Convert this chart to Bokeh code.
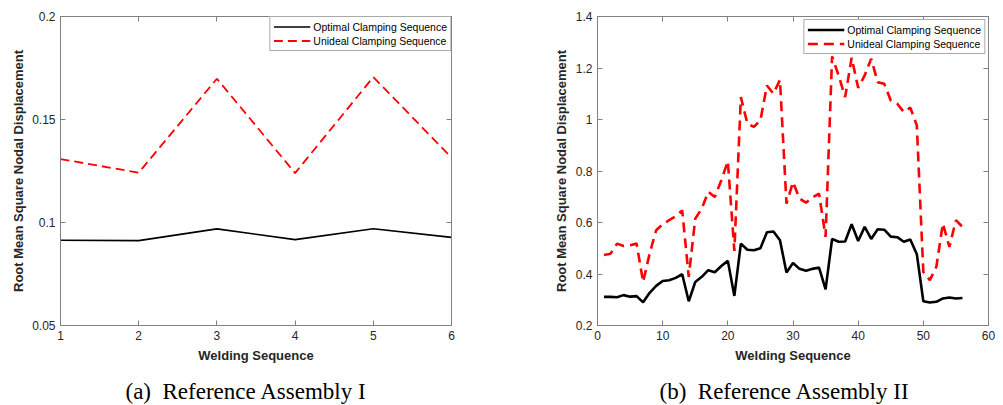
from bokeh.plotting import figure
from bokeh.layouts import row
from bokeh.models import Legend, LegendItem, LinearAxis, FixedTicker, Label, Range1d
from bokeh.embed import file_html
from bokeh.resources import INLINE

# ---------------- data ----------------
a_seq = [1, 2, 3, 4, 5, 6]
a_optimal = [0.0914, 0.0912, 0.0969, 0.0917, 0.0970, 0.0928]
a_unideal = [0.1308, 0.1242, 0.1698, 0.1240, 0.1706, 0.1315]

b_seq = list(range(1, 57))
b_optimal = [0.311, 0.311, 0.310, 0.318, 0.312, 0.314, 0.290, 0.327, 0.354, 0.373,
             0.376, 0.385, 0.399, 0.294, 0.369, 0.389, 0.415, 0.407, 0.431, 0.451,
             0.315, 0.518, 0.494, 0.492, 0.500, 0.562, 0.565, 0.531, 0.406, 0.443,
             0.420, 0.413, 0.420, 0.425, 0.340, 0.536, 0.525, 0.526, 0.593, 0.528,
             0.583, 0.536, 0.574, 0.572, 0.545, 0.543, 0.525, 0.534, 0.477, 0.294,
             0.289, 0.292, 0.305, 0.309, 0.305, 0.307]
b_unideal = [0.474, 0.479, 0.518, 0.509, 0.512, 0.518, 0.369, 0.479, 0.570, 0.593,
             0.609, 0.624, 0.647, 0.389, 0.615, 0.654, 0.719, 0.699, 0.764, 0.838,
             0.490, 1.087, 0.984, 0.971, 0.997, 1.132, 1.100, 1.154, 0.673, 0.757,
             0.693, 0.677, 0.697, 0.712, 0.544, 1.245, 1.171, 1.087, 1.240, 1.123,
             1.171, 1.236, 1.145, 1.139, 1.074, 1.061, 1.029, 1.046, 0.977, 0.408,
             0.376, 0.428, 0.596, 0.505, 0.609, 0.583]

a_xticks = [1, 2, 3, 4, 5, 6]
a_yticks = [0.05, 0.1, 0.15, 0.2]
a_ytick_labels = ["0.05", "0.1", "0.15", "0.2"]
b_xticks = [0, 10, 20, 30, 40, 50, 60]
b_yticks = [0.2, 0.4, 0.6, 0.8, 1.0, 1.2, 1.4]
b_ytick_labels = ["0.2", "0.4", "0.6", "0.8", "1", "1.2", "1.4"]

series_names = ["Optimal Clamping Sequence", "Unideal Clamping Sequence"]
x_label = "Welding Sequence"
y_label = "Root Mean Square Nodal Displacement"
captions = ["(a)\u00a0 Reference Assembly I", "(b)\u00a0 Reference Assembly II"]

FONT = "Liberation Sans"
AX_COL = "#808080"
TXT_COL = "#262626"


def style_axis(ax, ticker, labels=None, show_labels=True, label_text=None, lab_standoff=5):
    ax.ticker = FixedTicker(ticks=ticker)
    ax.axis_line_color = AX_COL
    ax.axis_line_width = 1
    ax.major_tick_line_color = AX_COL
    ax.major_tick_in = 5
    ax.major_tick_out = 0
    ax.minor_tick_line_color = None
    ax.major_label_text_font = FONT
    if show_labels:
        ax.major_label_text_color = TXT_COL
        ax.major_label_text_font_size = "12px"
        ax.major_label_standoff = 5
        if labels is not None:
            ax.major_label_overrides = {t: l for t, l in zip(ticker, labels)}
    else:
        ax.major_label_text_color = None
        ax.major_label_text_font_size = "1px"
        ax.major_label_standoff = 0
    if label_text:
        ax.axis_label = label_text
        ax.axis_label_text_font = FONT
        ax.axis_label_text_font_size = "13px"
        ax.axis_label_text_font_style = "bold"
        ax.axis_label_text_color = TXT_COL
        ax.axis_label_standoff = lab_standoff


def make_panel(width, mbl, mbr, xr, yr, xs, y1, y2, xticks, yticks, ylabels,
               caption, cap_x, lw_black, lw_red, dash, leg_margin, ylab_standoff):
    p = figure(width=width, height=405, x_range=Range1d(*xr), y_range=Range1d(*yr),
               output_backend="svg", toolbar_location=None,
               min_border_left=mbl, min_border_right=mbr,
               min_border_top=16, min_border_bottom=80)
    p.title.visible = False
    p.xgrid.visible = False
    p.ygrid.visible = False
    p.outline_line_color = AX_COL
    p.outline_line_width = 1
    p.background_fill_color = "white"
    p.border_fill_color = "white"

    style_axis(p.xaxis[0], xticks, label_text=x_label, lab_standoff=5)
    style_axis(p.yaxis[0], yticks, labels=ylabels, label_text=y_label,
               lab_standoff=ylab_standoff)
    top = LinearAxis()
    style_axis(top, xticks, show_labels=False)
    right = LinearAxis()
    style_axis(right, yticks, show_labels=False)
    p.add_layout(top, "above")
    p.add_layout(right, "right")

    r1 = p.line(xs, y1, line_color="black", line_width=lw_black)
    r2 = p.line(xs, y2, line_color="#ff0000", line_width=lw_red, line_dash=dash)

    leg = Legend(items=[LegendItem(label=series_names[0], renderers=[r1]),
                        LegendItem(label=series_names[1], renderers=[r2])],
                 location="top_right", margin=leg_margin, padding=3, spacing=1,
                 label_height=13, glyph_height=13, glyph_width=37, label_standoff=3,
                 label_text_font=FONT, label_text_font_size="10.5px",
                 label_text_color="black",
                 border_line_color="#555555", border_line_width=1,
                 background_fill_color="white", background_fill_alpha=1)
    p.add_layout(leg)

    cap = Label(text=caption, x=cap_x, y=391, x_units="canvas", y_units="canvas",
                text_font="Liberation Serif", text_font_size="23px",
                text_color="black", text_align="left", text_baseline="alphabetic")
    p.add_layout(cap, "below")
    return p


pa = make_panel(508, 60, 57, (1, 6), (0.05, 0.2), a_seq, a_optimal, a_unideal,
                a_xticks, a_yticks, a_ytick_labels, captions[0], 125,
                1.6, 1.8, "9 5", 0, 3)
pb = make_panel(495, 89, 15, (0, 60), (0.2, 1.4), b_seq, b_optimal, b_unideal,
                b_xticks, b_yticks, b_ytick_labels, captions[1], 151,
                2.6, 2.6, "10 6", 3, 4)

layout = row(pa, pb)
open("out.html", "w").write(file_html(layout, INLINE))
